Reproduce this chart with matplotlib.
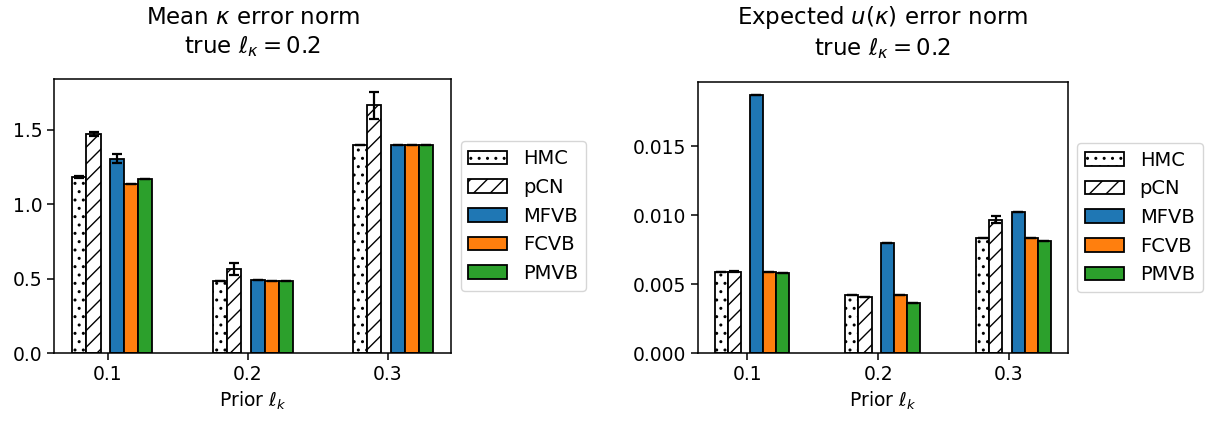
import matplotlib
matplotlib.use("Agg")
import matplotlib.pyplot as plt
import numpy as np

groups = ["0.1", "0.2", "0.3"]
methods = ["HMC", "pCN", "MFVB", "FCVB", "PMVB"]

# Left panel: mean kappa error norm
kappa_vals = {
    "HMC":  [1.181, 0.488, 1.400],
    "pCN":  [1.472, 0.564, 1.662],
    "MFVB": [1.304, 0.490, 1.400],
    "FCVB": [1.134, 0.488, 1.400],
    "PMVB": [1.168, 0.488, 1.400],
}
kappa_err = {
    "HMC":  [0.005, 0.0, 0.0],
    "pCN":  [0.012, 0.040, 0.090],
    "MFVB": [0.030, 0.0, 0.0],
    "FCVB": [0.0, 0.0, 0.0],
    "PMVB": [0.0, 0.0, 0.0],
}

# Right panel: expected u(kappa) error norm
u_vals = {
    "HMC":  [0.00590, 0.00423, 0.00837],
    "pCN":  [0.00593, 0.00411, 0.00970],
    "MFVB": [0.01873, 0.00801, 0.01023],
    "FCVB": [0.00593, 0.00426, 0.00837],
    "PMVB": [0.00581, 0.00365, 0.00813],
}
u_err = {
    "HMC":  [0.00003, 0.0, 0.0],
    "pCN":  [0.00003, 0.0, 0.00028],
    "MFVB": [0.00003, 0.0, 0.0],
    "FCVB": [0.0, 0.0, 0.0],
    "PMVB": [0.0, 0.0, 0.0],
}

offsets = {"HMC": -0.2, "pCN": -0.1, "MFVB": 0.07, "FCVB": 0.17, "PMVB": 0.27}
styles = {
    "HMC":  dict(color="white", hatch=".."),
    "pCN":  dict(color="white", hatch="//"),
    "MFVB": dict(color="#1f77b4"),
    "FCVB": dict(color="#ff7f0e"),
    "PMVB": dict(color="#2ca02c"),
}
width = 0.1

fig = plt.figure(figsize=(12.1, 4.22), dpi=100)
ax1 = fig.add_axes([0.0450, 0.1628, 0.3277, 0.650])
ax2 = fig.add_axes([0.5766, 0.1628, 0.3058, 0.6436])

x = np.arange(len(groups))


def draw(ax, vals, errs, title):
    for m in methods:
        ax.bar(x + offsets[m], vals[m], width, yerr=errs[m], capsize=3.5,
               edgecolor="black", linewidth=1.3, label=m,
               error_kw=dict(elinewidth=1.6, capthick=1.6, ecolor="black"),
               **styles[m])
    ax.set_xticks(x)
    ax.set_xticklabels(groups)
    ax.tick_params(labelsize=13.5, width=1.1, length=5)
    for s in ax.spines.values():
        s.set_linewidth(1.1)
    ax.set_xlabel(r"Prior $\ell_k$", fontsize=13.5)
    ax.set_title(title, fontsize=16.5, pad=19)
    ax.legend(loc="center left", bbox_to_anchor=(1.0, 0.5), fontsize=14)


draw(ax1, kappa_vals, kappa_err, "Mean $\\kappa$ error norm\ntrue $\\ell_\\kappa = 0.2$")
draw(ax2, u_vals, u_err, "Expected $u(\\kappa)$ error norm\ntrue $\\ell_\\kappa = 0.2$")
ax1.set_yticks([0.0, 0.5, 1.0, 1.5])
ax2.set_yticks([0.0, 0.005, 0.010, 0.015])

fig.savefig("out.png", dpi=100)
